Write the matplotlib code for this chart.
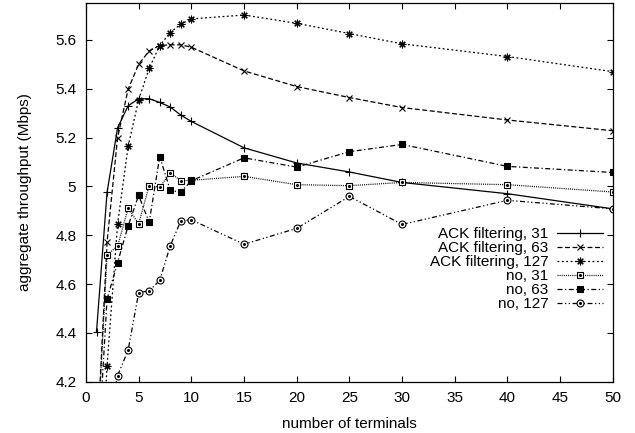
"""Aggregate throughput vs number of terminals, with and without ACK filtering."""

import matplotlib

matplotlib.use("Agg")
import matplotlib.pyplot as plt
from matplotlib.ticker import FormatStrFormatter, MultipleLocator

plt.rcParams["font.family"] = ["Liberation Sans", "DejaVu Sans"]
plt.rcParams["font.size"] = 11

# number of terminals
TERMINALS = [1, 2, 3, 4, 5, 6, 7, 8, 9, 10, 15, 20, 25, 30, 40, 50]

# aggregate throughput (Mbps)
ACK_31 = [4.405, 4.975, 5.24, 5.33, 5.359, 5.359, 5.344, 5.325, 5.292, 5.266,
          5.158, 5.096, 5.059, 5.016, 4.97, 4.908]
ACK_63 = [3.9, 4.772, 5.2, 5.398, 5.5, 5.555, 5.577, 5.58, 5.58, 5.57,
          5.473, 5.409, 5.364, 5.323, 5.272, 5.228]
ACK_127 = [3.5, 4.265, 4.846, 5.164, 5.355, 5.484, 5.577, 5.63, 5.665, 5.686,
           5.702, 5.668, 5.626, 5.584, 5.532, 5.47]
NO_31 = [3.9, 4.72, 4.755, 4.91, 4.847, 5.003, 4.997, 5.056, 5.023, 5.025,
         5.041, 5.007, 5.003, 5.016, 5.007, 4.977]
NO_63 = [3.8, 4.538, 4.688, 4.838, 4.963, 4.853, 5.122, 4.984, 4.976, 5.023,
         5.117, 5.079, 5.142, 5.172, 5.082, 5.057]
NO_127 = [3.6, 4.0, 4.225, 4.329, 4.565, 4.572, 4.615, 4.757, 4.859, 4.863,
          4.763, 4.828, 4.959, 4.844, 4.943, 4.908]

LABELS = ["ACK filtering, 31", "ACK filtering, 63", "ACK filtering, 127",
          "no, 31", "no, 63", "no, 127"]


def plot() -> None:
    fig = plt.figure(figsize=(6.35, 4.33), dpi=100)
    ax = fig.add_axes([0.1354, 0.1185, 0.965 - 0.1354, 0.9924 - 0.1185])

    styles = [
        dict(ls="-", marker="+", ms=6, mfc="black"),
        dict(ls=(0, (4, 2)), marker="x", ms=4.5, mfc="black"),
        dict(ls=(0, (1.5, 2)), marker=(8, 2, 0), ms=5.5, mfc="black"),
        dict(ls=(0, (0.8, 0.9)), marker="s", ms=5, mfc="white"),
        dict(ls=(0, (4, 2, 1, 2)), marker="s", ms=5, mfc="black"),
        dict(ls=(0, (4, 2, 1, 2, 1, 2)), marker="o", ms=5, mfc="white"),
    ]
    series = [ACK_31, ACK_63, ACK_127, NO_31, NO_63, NO_127]

    handles = []
    for ys, st, lab in zip(series, styles, LABELS):
        (ln,) = ax.plot(TERMINALS, ys, color="black", lw=0.9, mec="black",
                        mew=0.8, **st)
        h = ln
        if st["mfc"] == "white":
            # gnuplot draws a dot inside open symbols
            (dot,) = ax.plot(TERMINALS, ys, ls="none", marker="o", ms=1.2,
                             color="black")
            h = (ln, dot)
        handles.append(h)

    ax.set_xlim(0, 50)
    ax.set_ylim(4.2, 5.75)
    ax.xaxis.set_major_locator(MultipleLocator(5))
    ax.yaxis.set_major_locator(MultipleLocator(0.2))
    ax.yaxis.set_major_formatter(FormatStrFormatter("%g"))
    ax.tick_params(direction="in", length=4.5, width=0.8, top=True,
                   right=True, pad=7, labelsize=11)
    for sp in ax.spines.values():
        sp.set_linewidth(0.9)

    ax.set_xlabel("number of terminals", fontsize=11, labelpad=8)
    ax.set_ylabel("aggregate throughput (Mbps)", fontsize=11, labelpad=17)

    ax.legend(handles, LABELS, loc="upper right",
              bbox_to_anchor=(0.982, 0.409), frameon=False, markerfirst=False,
              numpoints=1, handlelength=3.0, handletextpad=0.6,
              labelspacing=0.0, borderpad=0, borderaxespad=0, fontsize=11)

    fig.savefig("out.png", dpi=100)
    plt.close(fig)


if __name__ == "__main__":
    plot()
